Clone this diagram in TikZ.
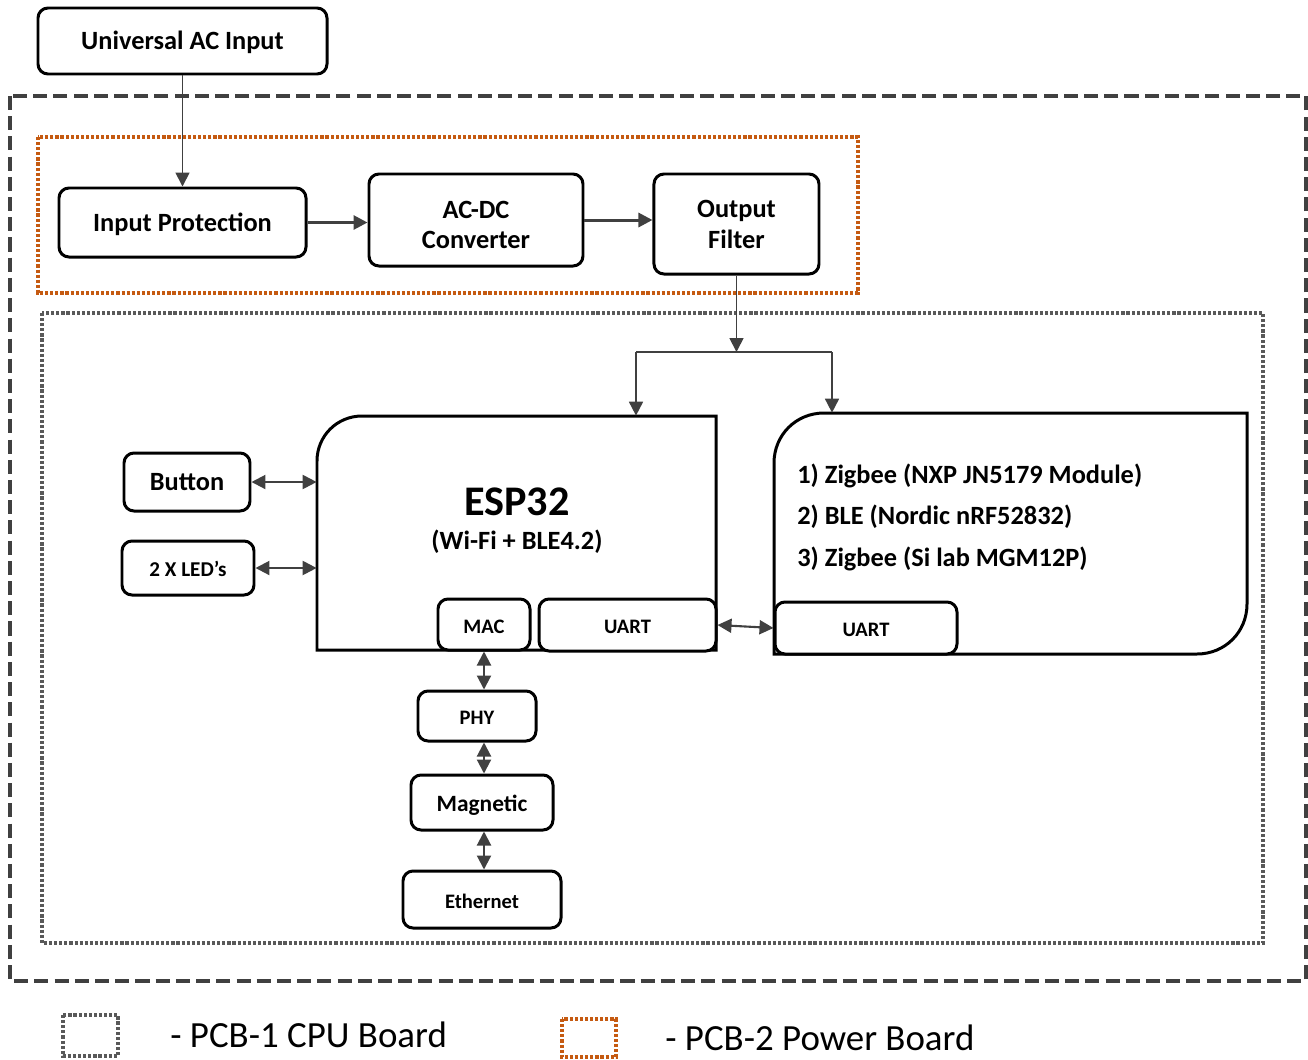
\documentclass[tikz,border=0pt]{standalone}
\usepackage{fontspec}
\setmainfont{Carlito}
\usetikzlibrary{arrows.meta,positioning}
\definecolor{linegray}{HTML}{404040}
\definecolor{dotgray}{HTML}{595959}
\definecolor{pcbtwo}{HTML}{C55A11}
\tikzset{
  blk/.style={draw=black, fill=white, line width=1.7pt, rounded corners=2mm, align=center, inner sep=0pt,
    font=\bfseries\fontsize{15}{17.6}\selectfont},
  oneline/.style={text height=1em, text depth=0pt},
  smallblk/.style={blk, oneline, font=\bfseries\fontsize{11.7}{14}\selectfont},
  flow/.style={draw=linegray, line width=1pt, -{Triangle[length=2.8mm,width=2.8mm]}},
  bigflow/.style={flow, line width=1.7pt},
  both/.style={draw=linegray, line width=1.2pt, {Triangle[length=2.8mm,width=2.8mm]}-{Triangle[length=2.8mm,width=2.8mm]}},
  board/.style={line width=2.2pt},
  dots/.style={board, dash pattern=on 1.8pt off 1.1pt},
}
\begin{document}
\begin{tikzpicture}[x=0.2mm, y=-0.2mm]
\useasboundingbox (0,0) rectangle (1308,1059);

% boards
\draw[board, linegray, dash pattern=on 8pt off 3.5pt] (10,96) rectangle (1306,981);
\draw[dots, pcbtwo] (38,137) rectangle (858,293);
\draw[dots, dotgray] (42,313) rectangle (1263,943);

% power path
\node[blk, oneline, minimum width=57.8mm, minimum height=13.2mm] (uai) at (182.5,41) {Universal AC Input};
\node[blk, oneline, minimum width=49.4mm, minimum height=13.8mm] (ip) at (182.5,222.5) {Input Protection};
\node[blk, minimum width=42.8mm, minimum height=18.4mm, right=12mm of ip, yshift=0.5mm] (acdc) {\rule{0pt}{1.03em}AC-DC\\Converter};
\node[blk, minimum width=33mm, minimum height=20mm, right=13.6mm of acdc, yshift=-0.8mm] (of) {Output\\Filter};

\draw[flow] (uai) -- (ip);
\draw[bigflow] (ip.east) -- (ip.east -| acdc.west);
\draw[bigflow] (acdc.east) -- (acdc.east -| of.west);

\coordinate (split) at (of |- 0,352);
\coordinate (sl) at (636,352);
\coordinate (sr) at (832,352);
\draw[flow] (of) -- (split);
\draw[linegray, line width=0.8pt] (sl) -- (sr);

% ESP32
\draw[line width=1.7pt] (317,650) -- (317,461) .. controls (317,436) and (337,416) .. (362,416)
  -- (716,416) -- (716,650) -- cycle;
\node[minimum width=79.8mm, minimum height=46.8mm] (esp) at (516.5,533) {};
\node[font=\bfseries\fontsize{24}{28}\selectfont] (esptitle) at (517,502) {ESP32};
\node[font=\bfseries\fontsize{15}{17}\selectfont] (espsub) at (517,542) {(Wi-Fi + BLE4.2)};
\node[smallblk, minimum width=18.4mm, minimum height=10.2mm] (mac) at (484,624.5) {MAC};
\node[smallblk, minimum width=35.4mm, minimum height=10.4mm] (uart1) at (627.5,625) {UART};

% radio modules
\draw[line width=1.7pt] (774,654) -- (774,463) .. controls (774,435) and (796,413) .. (824,413)
  -- (1247,413) -- (1247,604) .. controls (1247,632) and (1225,654) .. (1197,654) -- cycle;
\node[minimum width=94.6mm, minimum height=48.2mm] (zig) at (1010.5,533.5) {};
\node[anchor=west, align=left, inner sep=0pt, font=\bfseries\fontsize{15}{23.6}\selectfont] (ziglist) at (797,517)
  {1) Zigbee (NXP JN5179 Module)\\2) BLE (Nordic nRF52832)\\3) Zigbee (Si lab MGM12P)};
\node[smallblk, minimum width=36.4mm, minimum height=10.4mm] (uart2) at (866,628) {UART};

\draw[flow] (sl) -- (sl |- esp.north);
\draw[flow] (sr) -- (sr |- zig.north);

% peripherals
\node[blk, oneline, minimum width=25.2mm, minimum height=11.6mm] (btn) at (187,482) {Button};
\node[blk, oneline, minimum width=26.4mm, minimum height=10.8mm, font=\bfseries\fontsize{12}{14}\selectfont] (led) at (188,568) {2 X LED’s};
\node[smallblk, minimum width=23.6mm, minimum height=10mm] (phy) at (477,716) {PHY};
\node[blk, oneline, minimum width=28.4mm, minimum height=11mm, font=\bfseries\fontsize{13.3}{16}\selectfont] (mag) at (482,802.5) {Magnetic};
\node[smallblk, minimum width=31.6mm, minimum height=11.4mm] (eth) at (482,899.5) {Ethernet};

\draw[both] (btn.east) -- (btn.east -| esp.west);
\draw[both] (led.east) -- (led.east -| esp.west);
\draw[both] (uart1.east) -- (uart2.west);
\draw[both] (mac.south) -- (mac.south |- phy.north);
\draw[both] (mac.south |- phy.south) -- (mac.south |- mag.north);
\draw[both] (mac.south |- mag.south) -- (mac.south |- eth.north);

% legend
\draw[dots, dotgray] (63,1015) rectangle (118,1056);
\node[anchor=west, inner sep=0pt, font=\fontsize{21}{24}\selectfont] (legcpu) at (170,1035) {- PCB-1 CPU Board};
\draw[dots, pcbtwo] (562,1019) rectangle (616,1057);
\node[anchor=west, inner sep=0pt, font=\fontsize{21}{24}\selectfont] (legpwr) at (665,1038) {- PCB-2 Power Board};
\end{tikzpicture}
\end{document}
